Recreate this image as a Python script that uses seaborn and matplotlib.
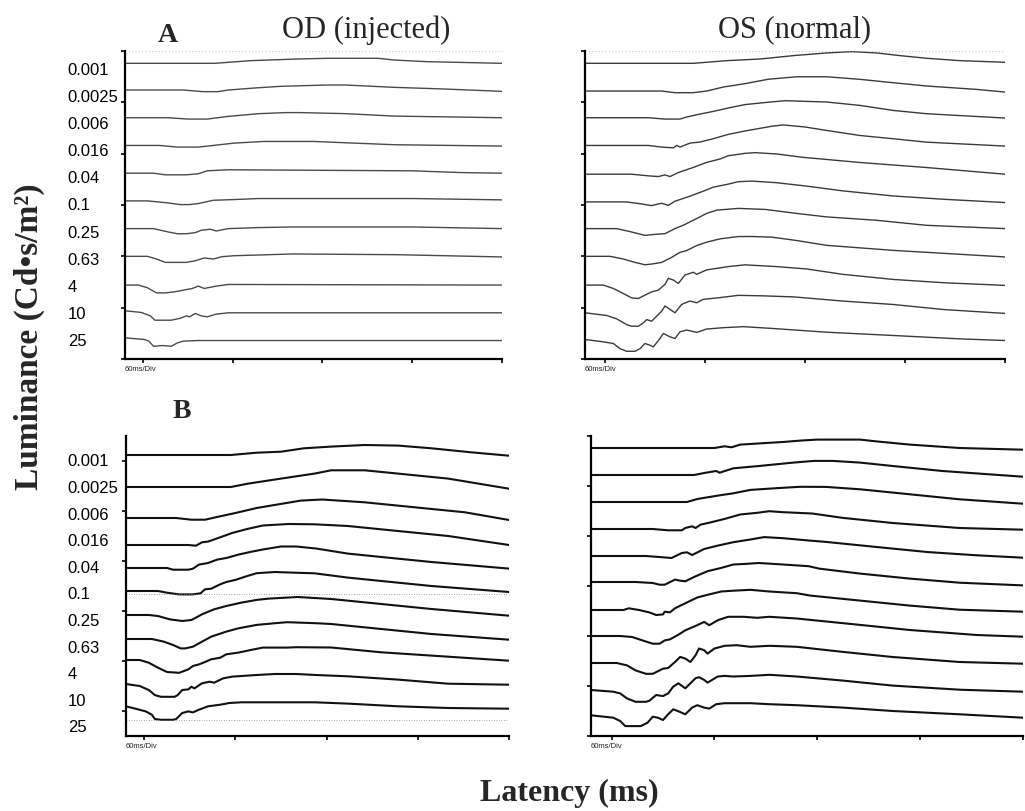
import numpy as np
import pandas as pd
import matplotlib
matplotlib.use("Agg")
import matplotlib.pyplot as plt
import matplotlib.transforms as mtransforms
import seaborn as sns

sns.set_style("ticks")
plt.rcParams["font.family"] = ["Liberation Sans", "DejaVu Sans"]

# Flash intensities (Cd*s/m^2), top to bottom
intensities = ["0.001", "0.0025", "0.006", "0.016", "0.04", "0.1",
               "0.25", "0.63", "4", "10", "25"]

# Time axis (ms), 60 ms per division
time_ticks = [0, 60, 120, 180, 240]

# ---- Panel A, OD (injected): (time ms, amplitude) ----
a_od = {
    "0.001": [(-12, 0), (48, 0), (72, 2.6), (103, 4.2), (124, 4.9), (157, 4.9), (168, 3.2), (190, 1.6), (240, 0)],
    "0.0025": [(-12, 0), (27, 0), (40, -1.6), (50, -1.6), (57, 0), (75, 2), (92, 3.6), (124, 4.9), (135, 4.9),
               (168, 2.6), (201, 1), (240, -1.3)],
    "0.006": [(-12, 0), (17, 0), (30, -1.3), (43, -1.3), (57, 1.3), (77, 3.9), (95, 5), (105, 5), (135, 4),
              (168, 1.6), (240, 0)],
    "0.016": [(-12, 0), (11, 0), (23, -1.6), (37, -1.6), (47, 0), (61, 2.3), (81, 3.9), (114, 3.9), (146, 2),
              (168, 0.7), (240, -0.6)],
    "0.04": [(-12, 0), (7, 0), (15, -1.6), (29, -1.6), (37, -0.6), (43, 2.3), (57, 3.3), (180, 2.3), (212, 0.6),
             (240, 0)],
    "0.1": [(-12, 0), (3, 0), (17, -2), (25, -3.6), (31, -3.6), (37, -2.6), (47, 0.6), (61, 1.3), (77, 2.3),
            (180, 2.3), (240, 1)],
    "0.25": [(-12, 0), (7, 0), (17, -3.3), (23, -5), (29, -5), (35, -3.9), (39, -1.6), (45, -0.6), (49, -2.3),
             (57, 0), (77, 1), (100, 1.6), (180, 1.6), (240, 0)],
    "0.63": [(-12, 0), (3, 0), (9, -2.6), (15, -5.9), (29, -5.9), (35, -4.3), (41, -1.6), (47, -2.6), (53, -0.3),
             (61, 0.6), (100, 2.3), (170, 1.6), (240, -0.6)],
    "4": [(-12, 0), (-3, 0), (3, -2.6), (9, -7.6), (15, -7.6), (21, -6.6), (33, -3.3), (37, -1), (41, -3.3),
          (49, -1), (57, 0.6), (240, 0)],
    "10": [(-12, 2), (-1, 0.3), (5, -3), (8, -7.2), (19, -7.2), (25, -5.3), (29, -3), (31, -3.9), (35, -0.7),
           (39, -3), (43, -3.9), (49, -1.3), (57, 0), (240, 0)],
    "25": [(-12, 2.6), (1, 1), (4, -0.6), (7, -5.6), (13, -4.9), (19, -5.6), (23, -2.3), (27, -0.6), (37, 0),
           (240, 0)],
}

# ---- Panel A, OS (normal) ----
a_os = {
    "0.001": [(-12, 0), (53, 0), (73, 2.6), (93, 4.2), (113, 7.5), (133, 10.1), (148, 11.4), (163, 10.1),
              (177, 7.5), (193, 4.9), (213, 2.6), (240, 1)],
    "0.0025": [(-12, 0), (34, 0), (42, -1.6), (53, -1.6), (61, 0), (71, 3.9), (84, 7.2), (98, 11.5), (115, 13.9),
               (133, 13.9), (153, 11.4), (173, 8.1), (193, 4.9), (223, 1.6), (240, -1)],
    "0.006": [(-12, 0), (26, 0), (36, -1.3), (45, -1.3), (49, 0.7), (55, 2.9), (65, 6.2), (74, 9.5), (84, 12.8),
              (96, 14.8), (108, 16.6), (133, 15.3), (153, 12), (173, 7.1), (193, 3.9), (240, -0.3)],
    "0.016": [(-12, 0), (26, 0), (34, -1.6), (41, -2.3), (43, 0), (45, -1.6), (51, 2.3), (57, 3.3), (65, 6.6),
              (74, 10.8), (84, 14.1), (100, 18.7), (107, 20), (120, 18), (133, 14.6), (153, 9.7), (173, 6.5),
              (193, 3.2), (240, -0.6)],
    "0.04": [(-12, 0), (16, 0), (26, -1.6), (32, -2.3), (36, -0.7), (39, -2.3), (44, 1.6), (47, 3.3), (53, 6.6),
             (61, 11.5), (69, 14.8), (74, 18), (84, 20.3), (90, 21), (103, 19.7), (119, 16.4), (153, 11.4),
             (193, 6.5), (240, 0)],
    "0.1": [(-12, 0), (13, 0), (22, -2), (28, -3.6), (32, -2), (34, -1.3), (38, -3.3), (42, 0.7), (45, 2.3),
            (51, 5.6), (59, 10.5), (65, 14.4), (73, 17), (80, 19.7), (88, 20.3), (103, 18.7), (121, 15.4),
            (143, 10.7), (173, 5.8), (203, 2.6), (240, -0.6)],
    "0.25": [(-12, 0), (7, 0), (16, -3.3), (24, -6.6), (30, -5.6), (36, -4.9), (42, 0), (47, 3.3), (55, 9.8),
             (61, 14.8), (67, 18), (80, 19.7), (96, 18.7), (115, 14.8), (133, 11.4), (163, 8.1), (193, 3.2),
             (240, 0)],
    "0.63": [(-12, 0), (3, 0), (11, -2.6), (18, -5.9), (24, -8.2), (28, -7.5), (34, -5.9), (40, -1), (45, 3.9),
             (49, 5.6), (55, 10.5), (61, 13.8), (69, 17), (80, 19.3), (88, 19.3), (100, 18.7), (115, 15.4),
             (133, 10.7), (173, 5.8), (240, -0.6)],
    "4": [(-12, 0), (-1, 0), (5, -3.3), (11, -8.2), (16, -12.5), (20, -13.1), (24, -9.8), (28, -6.6), (32, -4.9),
          (36, 0.7), (38, 6.6), (41, 4.9), (44, 1.6), (48, 9.8), (53, 12.5), (55, 10.5), (61, 14.8), (74, 18),
          (84, 19.7), (103, 18), (121, 15.7), (143, 10.4), (173, 5.5), (203, 2.3), (240, -0.3)],
    "10": [(-12, 0), (1, -2.6), (7, -5.9), (13, -11.5), (16, -13.1), (20, -13.1), (23, -9.8), (25, -6.6),
           (28, -8.2), (34, 1.6), (36, 6.6), (39, 3.3), (42, 0), (46, 8.2), (51, 11.5), (55, 9.8), (59, 13.1),
           (69, 14.8), (80, 17), (95, 16.5), (113, 15.5), (143, 11.4), (173, 8.1), (203, 3.2), (240, -0.6)],
    "25": [(-12, 0), (-1, -2.3), (5, -3.9), (9, -8.9), (13, -11.5), (18, -11.5), (21, -8.9), (24, -3.9),
           (27, -5.6), (29, -7.2), (33, 1), (35, 5.9), (39, 2.6), (42, 1), (45, 7.5), (49, 9.2), (55, 6.9),
           (61, 10.2), (71, 11.5), (83, 12.5), (100, 10.8), (133, 7.1), (173, 3.9), (213, 0.6), (240, -1)],
}

# ---- Panel B, OD (injected) ----
b_od = {
    "0.001": [(-12, 0), (57, 0), (74, 2.3), (90, 3.3), (105, 6.7), (123, 8.4), (145, 10), (167, 9.4),
              (189, 6.7), (215, 2.7), (240, -0.7)],
    "0.0025": [(-12, 0), (57, 0), (68, 3.3), (90, 8.4), (112, 13.4), (123, 16.7), (145, 16.7), (167, 13.4),
               (200, 8.4), (240, -1.7)],
    "0.006": [(-12, 0), (21, 0), (31, -1.7), (40, -1.7), (50, 1.7), (60, 5), (74, 10), (90, 14.1), (103, 17.4),
              (117, 18.5), (145, 15.7), (178, 10.7), (211, 5.7), (240, -2)],
    "0.016": [(-12, 0), (29, 0), (34, -0.7), (38, 2.7), (42, 3.4), (50, 7.7), (58, 12.1), (68, 16.1), (78, 19.5),
              (95, 21), (112, 20.7), (134, 19), (167, 14), (200, 9), (240, 0)],
    "0.04": [(-12, 0), (15, 0), (19, -1.7), (29, -1.7), (32, -0.7), (36, 3.4), (42, 5), (48, 8.4), (54, 10),
             (62, 13.4), (70, 16.1), (78, 18.5), (90, 21.5), (100, 21.5), (113, 19.5), (134, 14.4), (156, 11),
             (189, 6), (240, -0.6)],
    "0.1": [(-12, 0), (9, 0), (15, -1.7), (23, -3.4), (32, -3.4), (37, -2.3), (40, 1.7), (44, 2.3), (50, 6.7),
            (54, 9), (60, 11.1), (68, 15.1), (74, 17.8), (86, 19), (95, 18.5), (112, 17.7), (134, 13.4),
            (156, 10), (189, 5), (240, -1)],
    "0.25": [(-12, 0), (3, 0), (9, -1), (17, -4.4), (25, -6), (31, -5), (34, -2.7), (38, 0.7), (46, 5.7), (54, 9),
             (64, 12.4), (74, 15.1), (82, 16.4), (94, 17.4), (101, 18), (123, 16), (156, 11), (189, 6),
             (240, -0.7)],
    "0.63": [(-12, 0), (5, 0), (13, -2.7), (19, -6), (24, -9.4), (27, -9.4), (32, -7.7), (38, -2.7), (44, 2.3),
             (54, 7.4), (62, 10.7), (74, 14.1), (86, 15.8), (94, 16.8), (113, 15.8), (123, 15), (156, 10),
             (189, 5), (240, -0.7)],
    "4": [(-12, 0), (-3, 0), (3, -2.7), (9, -7.7), (15, -12), (23, -12.8), (29, -9.4), (32, -6), (36, -4.4),
          (40, -2), (44, 0.7), (50, 2.3), (54, 5.7), (62, 7.4), (70, 10), (78, 12.4), (94, 12.4), (100, 12.8),
          (123, 12.5), (156, 7.7), (189, 4.4), (240, -0.7)],
    "10": [(-12, 0), (-3, -2), (3, -6), (7, -11.1), (11, -12.8), (20, -12.8), (22, -11.1), (25, -6), (29, -5.4),
           (31, -2.7), (33, -4.4), (38, 0.7), (43, 2.3), (46, 1.3), (52, 5.7), (58, 7.4), (64, 8), (74, 9),
           (86, 10), (100, 10), (113, 9), (134, 7.7), (167, 4.4), (200, 0.3), (240, -0.7)],
    "25": [(-12, 0.7), (-5, -2), (1, -4.4), (5, -7.7), (7, -12), (11, -12.8), (19, -12.8), (21, -12), (25, -6),
           (29, -4.4), (32, -5.4), (36, -2.7), (42, 0.7), (50, 2.3), (56, 4), (64, 4.7), (90, 4.7), (112, 4.7),
           (134, 3.4), (167, 0.7), (200, -1), (240, -1.7)],
}

# ---- Panel B, OS (normal) ----
b_os = {
    "0.001": [(-12, 0), (60, 0), (66, 1.7), (70, 0.7), (75, 3.4), (81, 4), (90, 5), (100, 6), (110, 7.4),
              (120, 8.4), (145, 8.4), (154, 6.7), (174, 3.4), (203, 0), (240, -1.7)],
    "0.0025": [(-12, 0), (48, 0), (55, 2.3), (61, 4), (63, 2.3), (71, 6.7), (86, 9), (106, 12.4), (118, 14.1),
               (129, 14.1), (145, 12.4), (164, 9), (193, 4), (240, -1.7)],
    "0.006": [(-12, 0), (44, 0), (50, 3), (56, 4.7), (62, 6.4), (71, 8.7), (81, 12.1), (96, 13.8), (110, 15.2),
              (125, 15.1), (145, 12.7), (174, 7.7), (203, 2.7), (240, -1.7)],
    "0.016": [(-12, 0), (24, 0), (33, -1.3), (41, -1.3), (43, 1), (47, 2.7), (49, 1), (52, 4.4), (58, 6.7),
              (66, 10.1), (75, 14.5), (85, 16.2), (92, 17.8), (100, 16.8), (117, 15.5), (135, 11.1), (164, 6),
              (203, 1), (240, -0.7)],
    "0.04": [(-12, 0), (20, 0), (30, -1.3), (35, -2), (41, 3), (44, 3.7), (47, 1), (54, 7), (62, 10.4),
             (71, 13.8), (81, 16.5), (89, 18.9), (100, 17.8), (115, 15.5), (125, 14.1), (154, 9.1), (184, 4),
             (213, 0.7), (240, -1.7)],
    "0.1": [(-12, 0), (14, 0), (24, -1), (28, -2.7), (31, -2.7), (33, -1), (37, 2.4), (40, 1.3), (43, 0.7),
            (49, 5.7), (56, 10.8), (64, 14.1), (71, 17.5), (79, 18.2), (86, 19), (100, 17.5), (115, 15.8),
            (121, 13.4), (145, 8.4), (174, 3.4), (203, -0.7), (240, -3.4)],
    "0.25": [(-12, 0), (7, 0), (10, 1.7), (16, 0), (22, -2.4), (26, -5), (30, -4.4), (31, -1.7), (34, -2.4),
             (37, 1.7), (39, 3.4), (45, 8.4), (50, 12.5), (56, 15.2), (64, 18.5), (70, 19.2), (81, 20.2),
             (92, 18.5), (108, 16.8), (116, 14.4), (145, 9.4), (174, 4.4), (203, 0.3), (240, -1.7)],
    "0.63": [(-12, 0), (5, 0), (12, -1), (18, -4.4), (24, -7.7), (28, -7.7), (31, -4.4), (34, -3.4), (39, 1.3),
             (43, 5.7), (50, 10.8), (54, 14.1), (57, 10.8), (62, 15.8), (68, 19.2), (77, 19.2), (85, 18.2),
             (92, 19.2), (108, 17.5), (116, 16.1), (145, 11.1), (174, 6), (213, 1), (240, -0.7)],
    "4": [(-12, 0), (3, 0), (9, -2.4), (14, -7.4), (20, -10.8), (24, -10.8), (26, -9.1), (30, -5.7), (33, -5),
          (37, 1), (40, 6.1), (43, 4.4), (46, 1), (49, 7.7), (51, 14.5), (54, 12.8), (56, 9.4), (60, 14.5),
          (66, 17.2), (73, 17.8), (81, 16.2), (92, 17.2), (108, 16.2), (135, 11.1), (164, 6), (203, 1),
          (240, -0.7)],
    "10": [(-12, 0), (1, -1.7), (5, -3.4), (9, -8.4), (14, -11.8), (20, -11.8), (22, -10.8), (26, -5), (30, -6.1),
           (33, -3.4), (36, 3.4), (39, 6.7), (43, 1.7), (45, 5), (49, 11.8), (51, 12.8), (54, 10.1), (56, 7.4),
           (62, 13.5), (66, 14.1), (71, 13.5), (81, 14.1), (92, 15.2), (108, 13.5), (135, 9.4), (164, 4.4),
           (203, 0.3), (240, -1.7)],
    "25": [(-12, 0.7), (1, -1.7), (5, -5), (8, -10.1), (17, -10.1), (21, -6.7), (24, -0.7), (27, -1.7), (30, -4),
           (33, 1.7), (36, 6.7), (40, 4), (43, 1.7), (47, 8.4), (50, 10.8), (54, 8.4), (57, 7.4), (61, 11.8),
           (66, 12.8), (81, 12.8), (92, 11.8), (108, 10.8), (135, 8.4), (164, 5), (203, 1.7), (240, -1.7)],
}

# Resting level of each trace on the panel's 0-300 display scale
offsets_a_od = [288, 262, 235, 208, 181, 154, 127, 100, 72, 45, 18]
offsets_a_os = [288, 261, 235, 208, 180, 153, 127, 100, 72, 45, 19]
offsets_b_od = [281, 249, 218, 191, 168, 145, 121, 97, 76, 52, 29]
offsets_b_os = [288, 261, 234, 207, 180, 154, 126, 100, 73, 46, 20]

# Dotted reference lines visible in panel B (OD)
b_od_ref_lines = [142, 16]


def build_frame(traces, offsets):
    rows = []
    for lab, off in zip(intensities, offsets):
        for t, v in traces[lab]:
            rows.append({"label": lab, "t": t, "v": off + v})
    return pd.DataFrame(rows)


W, H = 1025, 812
fig = plt.figure(figsize=(W / 100, H / 100), dpi=100)


def px_axes(x0, x1, ytop, ybot):
    return fig.add_axes([x0 / W, 1 - ybot / H, (x1 - x0) / W, (ybot - ytop) / H])


ax_a_od = px_axes(125, 502, 52, 360)
ax_a_os = px_axes(585, 1005, 52, 360)
ax_b_od = px_axes(126, 509, 437, 737)
ax_b_os = px_axes(591, 1023, 437, 737)

panels = [
    (ax_a_od, a_od, offsets_a_od, "#4a4a4a", 1.0, np.arange(0, 301, 50), True),
    (ax_a_os, a_os, offsets_a_os, "#3a3a3a", 1.0, np.arange(0, 301, 50), False),
    (ax_b_od, b_od, offsets_b_od, "#111111", 1.5, np.arange(25, 300, 50), True),
    (ax_b_os, b_os, offsets_b_os, "#111111", 1.5, np.arange(0, 301, 50), False),
]

label_y = {id(ax_a_od): np.linspace(282, 18, 11), id(ax_b_od): np.linspace(275, 9, 11)}

for ax, traces, offs, col, lw, yt, with_labels in panels:
    df = build_frame(traces, offs)
    sns.lineplot(data=df, x="t", y="v", units="label", estimator=None, sort=False,
                 color=col, lw=lw, ax=ax, legend=False)
    ax.set_xlim(-12, 240)
    ax.set_ylim(0, 300)
    ax.set_xticks(time_ticks)
    ax.set_xticklabels([])
    ax.set_yticks(yt)
    ax.set_yticklabels([])
    ax.set_xlabel("")
    ax.set_ylabel("")
    for s in ["top", "right"]:
        ax.spines[s].set_visible(False)
    for s in ["left", "bottom"]:
        ax.spines[s].set_linewidth(1.6)
        ax.spines[s].set_color("black")
    ax.tick_params(axis="both", direction="out", length=3, width=1.2, color="black")
    ax.text(0.0, -0.02, "60ms/Div", transform=ax.transAxes, fontsize=5.5,
            va="top", ha="left", color="#222222")
    if with_labels:
        tr = mtransforms.blended_transform_factory(ax.transAxes, ax.transData)
        for lab, y in zip(intensities, label_y[id(ax)]):
            ax.text(-0.152, y, lab, transform=tr, ha="left", va="center",
                    fontsize=12, color="black")

for y in b_od_ref_lines:
    ax_b_od.axhline(y, color="#888888", lw=0.6, ls=(0, (1, 2)))

# faint dotted frame line along the top of the A panels (scan artefact in the original)
for ax in (ax_a_od, ax_a_os):
    ax.axhline(300, color="#aaaaaa", lw=0.6, ls=(0, (1, 3)), clip_on=False)

serif = ["Liberation Serif", "DejaVu Serif"]
fig.text(366 / W, 1 - 30 / H, "OD (injected)", family=serif, fontsize=22, ha="center", va="center")
fig.text(795 / W, 1 - 30 / H, "OS (normal)", family=serif, fontsize=22, ha="center", va="center")
fig.text(168 / W, 1 - 36 / H, "A", family=serif, fontsize=20, fontweight="bold", ha="center", va="center")
fig.text(182 / W, 1 - 412 / H, "B", family=serif, fontsize=20, fontweight="bold", ha="center", va="center")
fig.text(29 / W, 1 - 337 / H, "Luminance (Cd\u2022s/m\u00b2)", family=serif, fontsize=24,
         fontweight="bold", rotation=90, ha="center", va="center")
fig.text(569 / W, 1 - 793 / H, "Latency (ms)", family=serif, fontsize=23, fontweight="bold",
         ha="center", va="center")

fig.savefig("out.png", dpi=100)
